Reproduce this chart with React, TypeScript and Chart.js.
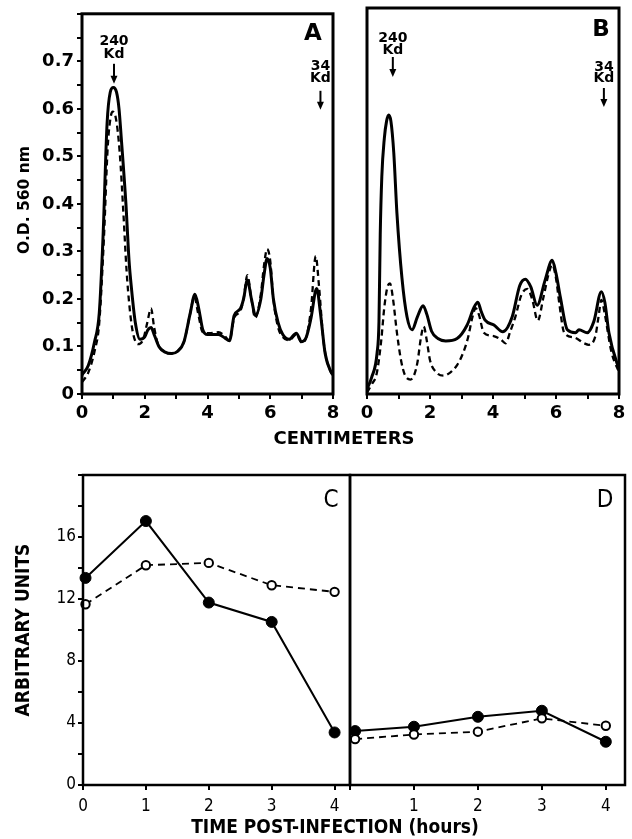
import React, { useEffect, useRef } from 'react';
import { Chart, registerables } from 'chart.js';
Chart.register(...registerables);

const W = 632;
const H = 839;
const SANS = '"DejaVu Sans", sans-serif';
const COND = '"DejaVu Sans Condensed", "DejaVu Sans", sans-serif';

// ---- Panel A (O.D. 560 nm vs centimeters) ----
const aSolidX = [0, 0.2, 0.4, 0.55, 0.67, 0.8, 0.9, 1.0, 1.1, 1.18, 1.25, 1.4, 1.5, 1.58, 1.7, 1.85, 2.0, 2.1, 2.2, 2.3, 2.45, 2.65, 2.85, 3.05, 3.25, 3.45, 3.6, 3.72, 3.85, 4.0, 4.35, 4.55, 4.7, 4.85, 5.05, 5.15, 5.27, 5.4, 5.53, 5.7, 5.8, 5.9, 6.0, 6.1, 6.25, 6.4, 6.6, 6.83, 7.0, 7.15, 7.3, 7.48, 7.6, 7.75, 7.95, 8.0];
const aSolidY = [0.04, 0.06, 0.11, 0.17, 0.33, 0.57, 0.635, 0.645, 0.635, 0.6, 0.54, 0.4, 0.28, 0.22, 0.15, 0.115, 0.12, 0.135, 0.14, 0.125, 0.1, 0.088, 0.085, 0.09, 0.11, 0.17, 0.21, 0.18, 0.135, 0.125, 0.125, 0.118, 0.112, 0.165, 0.18, 0.2, 0.24, 0.2, 0.165, 0.2, 0.25, 0.285, 0.265, 0.2, 0.15, 0.125, 0.115, 0.128, 0.11, 0.12, 0.16, 0.222, 0.17, 0.085, 0.045, 0.04];
const aDashX = [0, 0.2, 0.4, 0.55, 0.7, 0.82, 0.92, 0.98, 1.08, 1.2, 1.32, 1.42, 1.52, 1.62, 1.78, 1.95, 2.08, 2.2, 2.3, 2.42, 2.65, 2.85, 3.05, 3.25, 3.45, 3.58, 3.7, 3.85, 4.1, 4.35, 4.55, 4.7, 4.85, 5.05, 5.15, 5.27, 5.4, 5.52, 5.7, 5.8, 5.9, 6.0, 6.1, 6.25, 6.4, 6.6, 6.83, 7.0, 7.15, 7.3, 7.45, 7.55, 7.7, 7.9, 8.0];
const aDashY = [0.025, 0.045, 0.09, 0.15, 0.33, 0.52, 0.585, 0.594, 0.58, 0.51, 0.38, 0.26, 0.18, 0.13, 0.105, 0.115, 0.15, 0.18, 0.14, 0.105, 0.088, 0.085, 0.09, 0.11, 0.17, 0.205, 0.17, 0.13, 0.128, 0.13, 0.122, 0.112, 0.16, 0.175, 0.2, 0.25, 0.2, 0.16, 0.21, 0.27, 0.305, 0.28, 0.2, 0.14, 0.12, 0.113, 0.125, 0.108, 0.12, 0.18, 0.29, 0.23, 0.11, 0.05, 0.04];

// ---- Panel B ----
const bSolidX = [0, 0.15, 0.32, 0.38, 0.42, 0.47, 0.55, 0.62, 0.69, 0.76, 0.85, 0.95, 1.11, 1.27, 1.43, 1.6, 1.78, 1.9, 2.05, 2.25, 2.5, 2.86, 3.18, 3.4, 3.52, 3.62, 3.75, 4.03, 4.31, 4.61, 4.85, 5.03, 5.2, 5.4, 5.65, 5.88, 6.0, 6.14, 6.36, 6.62, 6.73, 6.99, 7.2, 7.44, 7.55, 7.68, 7.94, 8.0];
const bSolidY = [0.01, 0.035, 0.085, 0.15, 0.33, 0.45, 0.53, 0.565, 0.578, 0.565, 0.5, 0.375, 0.24, 0.16, 0.133, 0.16, 0.183, 0.165, 0.13, 0.115, 0.11, 0.115, 0.143, 0.18, 0.19, 0.172, 0.153, 0.143, 0.129, 0.16, 0.225, 0.238, 0.222, 0.184, 0.235, 0.277, 0.25, 0.2, 0.133, 0.127, 0.133, 0.127, 0.15, 0.212, 0.19, 0.127, 0.063, 0.055];
const bDashX = [0, 0.15, 0.31, 0.45, 0.55, 0.65, 0.73, 0.82, 0.95, 1.08, 1.2, 1.38, 1.5, 1.6, 1.72, 1.8, 1.9, 2.0, 2.2, 2.43, 2.65, 2.86, 3.05, 3.2, 3.35, 3.45, 3.55, 3.71, 4.02, 4.25, 4.4, 4.55, 4.71, 4.9, 5.09, 5.25, 5.42, 5.6, 5.75, 5.88, 6.0, 6.1, 6.26, 6.58, 6.9, 7.04, 7.25, 7.35, 7.44, 7.55, 7.75, 7.95, 8.0];
const bDashY = [0.003, 0.02, 0.043, 0.11, 0.18, 0.222, 0.229, 0.2, 0.127, 0.07, 0.04, 0.03, 0.04, 0.065, 0.12, 0.14, 0.11, 0.07, 0.045, 0.038, 0.045, 0.06, 0.085, 0.115, 0.16, 0.178, 0.165, 0.127, 0.12, 0.113, 0.105, 0.13, 0.16, 0.205, 0.218, 0.195, 0.152, 0.2, 0.245, 0.268, 0.24, 0.19, 0.127, 0.117, 0.105, 0.102, 0.12, 0.16, 0.195, 0.165, 0.09, 0.053, 0.048];

// molecular-weight markers (cm position)
const markerTop = ['240', '34'];
const markerXA = [1.02, 7.6];
const markerXB = [0.82, 7.52];

// ---- Panels C and D (arbitrary units vs time post-infection) ----
const timeC = [0.04, 1, 2, 3, 4];
const cFilled = [13.36, 17.03, 11.77, 10.52, 3.39];
const cOpen = [11.66, 14.18, 14.33, 12.89, 12.46];
const timeD = [0.08, 1, 2, 3, 4];
const dFilled = [3.48, 3.76, 4.4, 4.79, 2.79];
const dOpen = [2.96, 3.26, 3.44, 4.3, 3.82];

const pts = (xs: number[], ys: number[]) => xs.map((x, i) => ({ x, y: ys[i] }));

const gridTicks = { display: true, drawOnChartArea: false, drawTicks: true, tickLength: 5, lineWidth: 2, color: '#000' };

function arrow(ctx: CanvasRenderingContext2D, x: number, y1: number, y2: number) {
  ctx.beginPath();
  ctx.lineWidth = 2;
  ctx.moveTo(x, y1);
  ctx.lineTo(x, y2 - 6);
  ctx.stroke();
  ctx.beginPath();
  ctx.moveTo(x - 3.5, y2 - 8);
  ctx.lineTo(x + 3.5, y2 - 8);
  ctx.lineTo(x, y2);
  ctx.closePath();
  ctx.fill();
}

function text(ctx: CanvasRenderingContext2D, s: string, x: number, y: number, font: string, rot = false) {
  ctx.save();
  ctx.font = font;
  ctx.fillStyle = '#000';
  ctx.textAlign = 'center';
  ctx.textBaseline = 'middle';
  ctx.translate(x, y);
  if (rot) ctx.rotate(-Math.PI / 2);
  ctx.fillText(s, 0, 0);
  ctx.restore();
}

function decor(lw: number, draw: (ctx: CanvasRenderingContext2D, chart: any) => void) {
  return {
    id: 'decor',
    afterDraw(chart: any) {
      const ctx = chart.ctx as CanvasRenderingContext2D;
      const ca = chart.chartArea;
      ctx.save();
      ctx.strokeStyle = '#000';
      ctx.fillStyle = '#000';
      ctx.lineWidth = lw;
      ctx.strokeRect(ca.left, ca.top, ca.right - ca.left, ca.bottom - ca.top);
      draw(ctx, chart);
      ctx.restore();
    },
  };
}

function curveSets(sx: number[], sy: number[], dx: number[], dy: number[]) {
  return [
    { data: pts(sx, sy), borderColor: '#000', borderWidth: 3, pointRadius: 0, cubicInterpolationMode: 'monotone', fill: false },
    { data: pts(dx, dy), borderColor: '#000', borderWidth: 2.3, borderDash: [6, 4], pointRadius: 0, cubicInterpolationMode: 'monotone', fill: false },
  ];
}

const cmAxis = {
  type: 'linear', min: 0, max: 8,
  afterFit: (s: any) => { s.height = 30; },
  ticks: { stepSize: 1, autoSkip: false, maxRotation: 0, color: '#000', padding: 4, font: { family: SANS, size: 18, weight: 'bold' }, callback: (v: any) => (Math.round(v) % 2 === 0 ? String(v) : '') },
  grid: gridTicks, border: { display: false },
};

function cfgA(): any {
  return {
    type: 'line',
    data: { datasets: curveSets(aSolidX, aSolidY, aDashX, aDashY) },
    options: {
      responsive: false, animation: false,
      layout: { padding: { left: 22, top: 9, right: W - 333, bottom: H - 394 - 30 } },
      plugins: { legend: { display: false }, tooltip: { enabled: false } },
      scales: {
        x: cmAxis,
        y: {
          type: 'linear', min: 0, max: 0.8,
          afterFit: (s: any) => { s.width = 60; },
          ticks: {
            stepSize: 0.05, autoSkip: false, color: '#000', padding: 3, font: { family: SANS, size: 18, weight: 'bold' },
            callback: (v: any) => { const r = Math.round(v * 100); if (r % 10 !== 0 || r > 70) return ''; return r === 0 ? '0' : (r / 100).toFixed(1); },
          },
          grid: gridTicks, border: { display: false },
        },
      },
    },
    plugins: [decor(3, (ctx, chart) => {
      const xs = chart.scales.x;
      const top = chart.chartArea.top;
      text(ctx, 'O.D. 560 nm', 25, 200, `bold 15.5px ${SANS}`, true);
      text(ctx, 'A', 313, top + 20, `bold 23px ${SANS}`);
      const f = `bold 14px ${SANS}`;
      let x = xs.getPixelForValue(markerXA[0]);
      text(ctx, markerTop[0], x, top + 28, f); text(ctx, 'Kd', x, top + 41, f); arrow(ctx, x, top + 50, top + 70);
      x = xs.getPixelForValue(markerXA[1]);
      text(ctx, markerTop[1], x, top + 53, f); text(ctx, 'Kd', x, top + 65, f); arrow(ctx, x, top + 77, top + 96);
      text(ctx, 'CENTIMETERS', 344, 439, `bold 18px ${SANS}`);
    })],
  };
}

function cfgB(): any {
  return {
    type: 'line',
    data: { datasets: curveSets(bSolidX, bSolidY, bDashX, bDashY) },
    options: {
      responsive: false, animation: false,
      layout: { padding: { left: 367, top: 8, right: W - 619, bottom: H - 394 - 30 } },
      plugins: { legend: { display: false }, tooltip: { enabled: false } },
      scales: {
        x: cmAxis,
        y: { type: 'linear', min: 0, max: 0.8, display: false },
      },
    },
    plugins: [decor(3, (ctx, chart) => {
      const xs = chart.scales.x;
      const top = chart.chartArea.top;
      text(ctx, 'B', 601, top + 22, `bold 23px ${SANS}`);
      const f = `bold 14px ${SANS}`;
      let x = xs.getPixelForValue(markerXB[0]);
      text(ctx, markerTop[0], x, top + 30, f); text(ctx, 'Kd', x, top + 42, f); arrow(ctx, x, top + 49, top + 69);
      x = xs.getPixelForValue(markerXB[1]);
      text(ctx, markerTop[1], x, top + 59, f); text(ctx, 'Kd', x, top + 70, f); arrow(ctx, x, top + 80, top + 99);
    })],
  };
}

function pointSets(t: number[], filled: number[], open: number[]) {
  return [
    { data: pts(t, open), borderColor: '#000', borderWidth: 1.8, borderDash: [7, 5], pointRadius: 4.2, pointBorderWidth: 2, pointBackgroundColor: '#fff', pointBorderColor: '#000', tension: 0, clip: false, fill: false },
    { data: pts(t, filled), borderColor: '#000', borderWidth: 2, pointRadius: 5.5, pointBorderWidth: 1, pointBackgroundColor: '#000', pointBorderColor: '#000', tension: 0, clip: false, fill: false },
  ];
}

function timeAxis(max: number, showZero: boolean): any {
  return {
    type: 'linear', min: 0, max,
    afterFit: (s: any) => { s.height = 30; },
    ticks: { stepSize: 1, includeBounds: false, autoSkip: false, maxRotation: 0, color: '#000', padding: 6, font: { family: COND, size: 17 }, callback: (v: any) => (v === 0 && !showZero ? '' : String(v)) },
    grid: gridTicks, border: { display: false },
  };
}

function cfgC(): any {
  return {
    type: 'line',
    data: { datasets: pointSets(timeC, cFilled, cOpen) },
    options: {
      responsive: false, animation: false,
      layout: { padding: { left: 33, top: 475, right: W - 350, bottom: H - 785 - 30 } },
      plugins: { legend: { display: false }, tooltip: { enabled: false } },
      scales: {
        x: timeAxis(4.245, true),
        y: {
          type: 'linear', min: 0, max: 20,
          afterFit: (s: any) => { s.width = 50; },
          ticks: { stepSize: 2, autoSkip: false, color: '#000', padding: 2, font: { family: COND, size: 17 }, callback: (v: any) => (v % 4 === 0 && v <= 16 ? String(v) : '') },
          grid: gridTicks, border: { display: false },
        },
      },
    },
    plugins: [decor(2.5, (ctx) => {
      text(ctx, 'ARBITRARY UNITS', 24, 630, `bold 19px ${COND}`, true);
      text(ctx, 'C', 331, 501, `24px ${COND}`);
      text(ctx, 'TIME POST-INFECTION (hours)', 335, 828, `bold 19px ${COND}`);
    })],
  };
}

function cfgD(): any {
  return {
    type: 'line',
    data: { datasets: pointSets(timeD, dFilled, dOpen) },
    options: {
      responsive: false, animation: false,
      layout: { padding: { left: 350, top: 475, right: W - 625, bottom: H - 785 - 30 } },
      plugins: { legend: { display: false }, tooltip: { enabled: false } },
      scales: {
        x: timeAxis(4.3, false),
        y: { type: 'linear', min: 0, max: 20, display: false },
      },
    },
    plugins: [decor(2.5, (ctx) => {
      text(ctx, 'D', 605, 501, `24px ${COND}`);
    })],
  };
}

export default function App() {
  const rA = useRef<HTMLCanvasElement>(null);
  const rB = useRef<HTMLCanvasElement>(null);
  const rC = useRef<HTMLCanvasElement>(null);
  const rD = useRef<HTMLCanvasElement>(null);
  useEffect(() => {
    const charts = [
      new Chart(rA.current!, cfgA()),
      new Chart(rB.current!, cfgB()),
      new Chart(rC.current!, cfgC()),
      new Chart(rD.current!, cfgD()),
    ];
    return () => charts.forEach((c) => c.destroy());
  }, []);
  const st: React.CSSProperties = { position: 'absolute', left: 0, top: 0 };
  return (
    <div style={{ position: 'absolute', left: 0, top: 0, width: W, height: H, background: '#fff', overflow: 'hidden' }}>
      <canvas ref={rA} width={W} height={H} style={st} />
      <canvas ref={rB} width={W} height={H} style={st} />
      <canvas ref={rC} width={W} height={H} style={st} />
      <canvas ref={rD} width={W} height={H} style={st} />
    </div>
  );
}
